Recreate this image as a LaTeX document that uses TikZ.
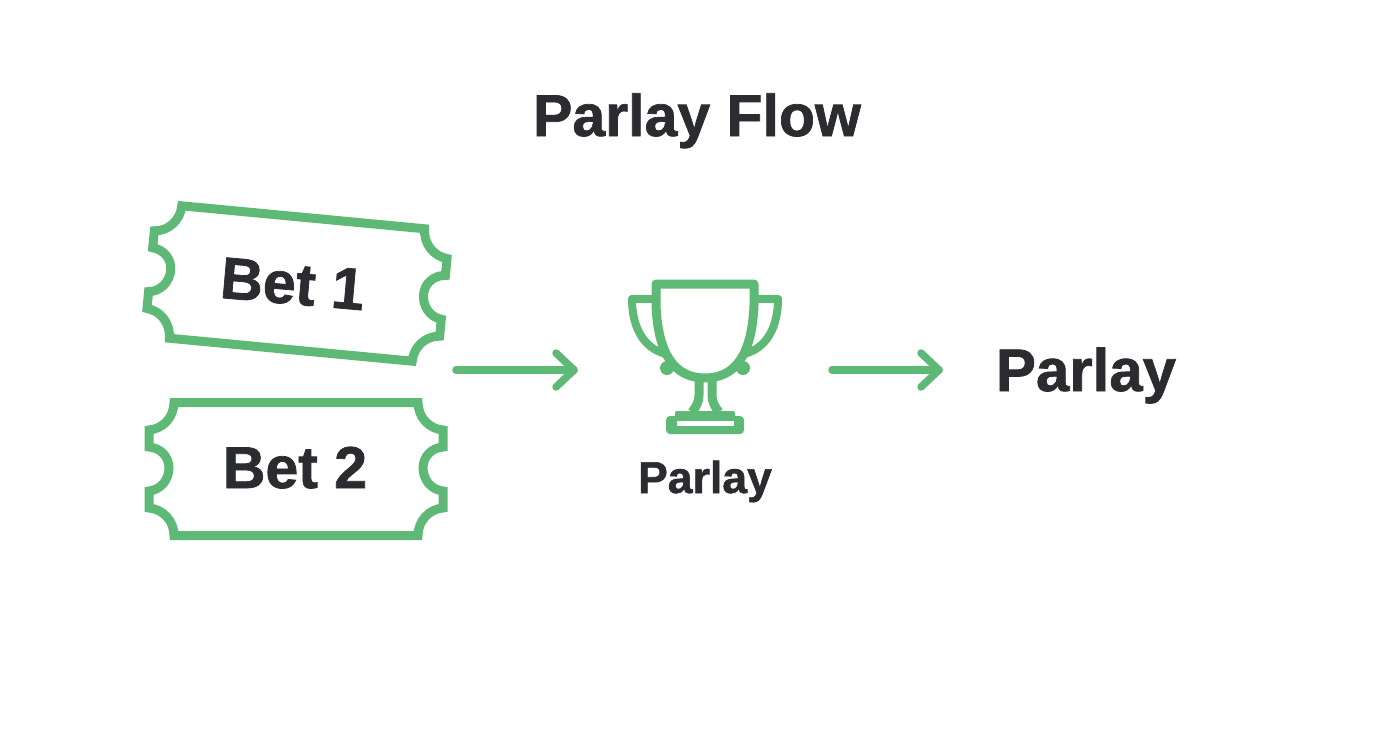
\documentclass[tikz,border=0pt]{standalone}
\usepackage{fontspec}
\usetikzlibrary{calc}
\setmainfont[BoldFeatures={FakeBold=1.2}]{Liberation Sans}
\definecolor{grn}{HTML}{5FB976}
\definecolor{ink}{HTML}{2A2C30}
\tikzset{
  x=1pt,y=-1pt,
  icon/.style={draw=grn,line width=9pt,line join=miter,fill=none},
  cup/.style={draw=grn,line width=9pt,line join=round,line cap=round,fill=none},
  flow/.style={draw=grn,line width=7.5pt,line cap=round,line join=round},
  label/.style={text=ink,inner sep=0pt,anchor=base},
  big/.style={font=\bfseries\fontsize{59}{59}\selectfont},
  ticket/.pic={
    \draw[icon] (-122,-66.5) .. controls (-122,-52) and (-133,-40) .. (-147,-39)
      -- (-147,-22) .. controls (-135,-21) and (-127,-12) .. (-127,-1)
      .. controls (-127,10) and (-135,21) .. (-147,22)
      -- (-147,39) .. controls (-133,40) and (-122,52) .. (-122,66.5)
      -- (122,66.5) .. controls (122,52) and (133,40) .. (147,39)
      -- (147,22) .. controls (135,21) and (127,10) .. (127,-1)
      .. controls (127,-12) and (135,-21) .. (147,-22)
      -- (147,-39) .. controls (133,-40) and (122,-52) .. (122,-66.5)
      -- cycle;
  }
}
\begin{document}
\begin{tikzpicture}
\useasboundingbox (0,0) rectangle (1392,752);
\fill[white] (0,0) rectangle (1392,752);
\node[label,big] (title) at (697,136) {Parlay Flow};
% tickets
\pic at (297,283.5) [rotate=-5.4] {ticket};
\pic at (296,469) {ticket};
\node[label,big,rotate=-5] (bet1) at (291,304) {Bet 1};
\node[label,big] (bet2) at (295,488) {Bet 2};
% trophy
\draw[cup,line width=8pt] (632,299) .. controls (632,325) and (642,348) .. (666,354);
\draw[cup,line width=8pt] (778,299) .. controls (778,325) and (768,348) .. (744,354);
\draw[cup,line width=8pt] (632,299) -- (656,299);
\draw[cup,line width=8pt] (778,299) -- (754,299);
\fill[grn] (667,368) circle (7);
\fill[grn] (743,368) circle (7);
\draw[cup] (656,284) -- (754,284) -- (754,305)
  .. controls (752,355) and (735,378) .. (705,378)
  .. controls (675,378) and (658,355) .. (656,305) -- cycle;
\draw[cup,line cap=butt] (699,378) -- (699,395) .. controls (699,402) and (696,407) .. (692,412);
\draw[cup,line cap=butt] (712,378) -- (712,395) .. controls (712,402) and (715,407) .. (719,412);
\fill[grn,rounded corners=2pt] (675,411) rectangle (735,422);
\fill[grn,rounded corners=4pt] (666,416) rectangle (744,434);
\fill[white] (677,421) rectangle (734,426);
\node[label,font=\bfseries\fontsize{44.6}{45}\selectfont] (cuplabel) at (705,493) {Parlay};
\node[label,font=\bfseries\fontsize{60}{60}\selectfont] (result) at (1086,391) {Parlay};
% arrows
\coordinate (a1s) at (456,370);
\coordinate (a1e) at (574,370);
\coordinate (a2s) at (832,370);
\coordinate (a2e) at (939,370);
\draw[flow] (a1s) -- (a1e);
\draw[flow] ($(a1e)+(-18,-17)$) -- (a1e) -- ($(a1e)+(-18,17)$);
\draw[flow] (a2s) -- (a2e);
\draw[flow] ($(a2e)+(-18,-17)$) -- (a2e) -- ($(a2e)+(-18,17)$);
\end{tikzpicture}
\end{document}
